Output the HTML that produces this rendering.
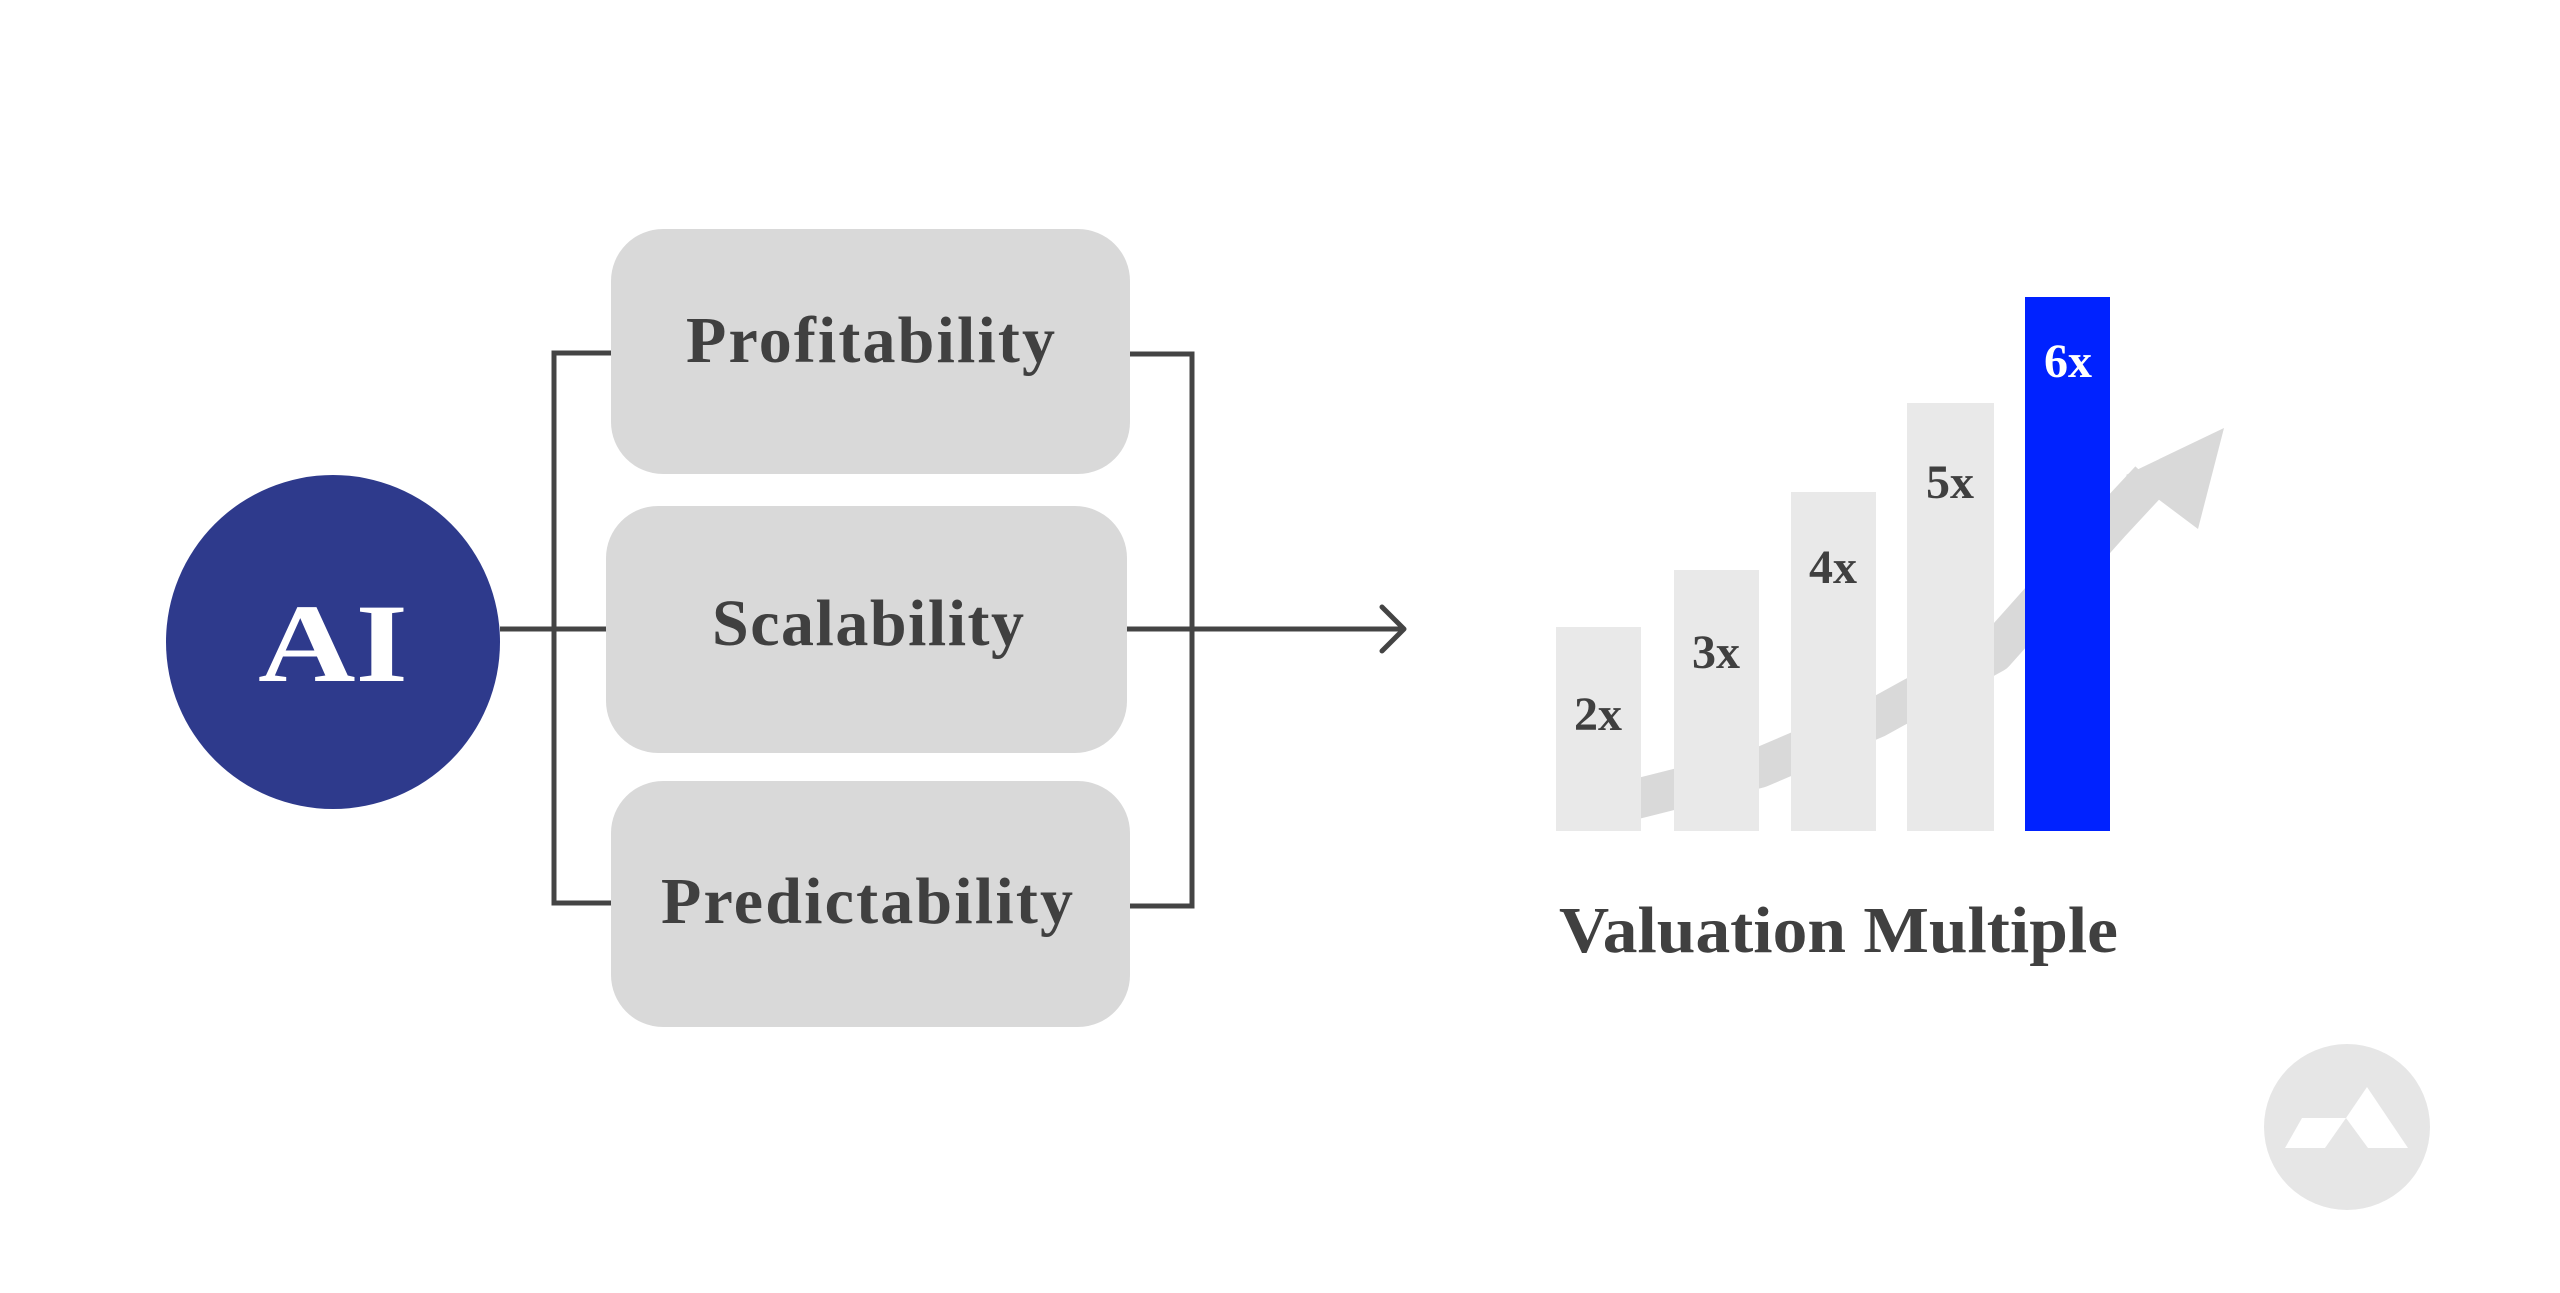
<!DOCTYPE html>
<html><head><meta charset="utf-8"><style>html,body{margin:0;padding:0;background:#fff}svg{display:block}</style></head>
<body>
<svg width="2560" height="1293" viewBox="0 0 2560 1293" xmlns="http://www.w3.org/2000/svg">
<rect width="2560" height="1293" fill="#fff"/>
<g stroke="#444" stroke-width="5" fill="none">
<polyline points="611,353 554,353 554,903 611,903"/>
<line x1="500" y1="629" x2="606" y2="629"/>
<polyline points="1130,354 1192,354 1192,906 1130,906"/>
<line x1="1127" y1="629" x2="1402" y2="629"/>
<polyline points="1382,607 1404,629 1382,651" stroke-linecap="round" stroke-linejoin="round"/>
</g>
<circle cx="333" cy="642" r="167" fill="#2e3a8c"/>
<text x="333" y="681" text-anchor="middle" font-family="Liberation Serif, serif" font-weight="bold" font-size="112" fill="#fff" textLength="150" lengthAdjust="spacingAndGlyphs">AI</text>
<g fill="#d9d9d9">
<rect x="611" y="229" width="519" height="245" rx="52"/>
<rect x="606" y="506" width="521" height="247" rx="52"/>
<rect x="611" y="781" width="519" height="246" rx="52"/>
</g>
<g font-family="Liberation Serif, serif" font-weight="bold" font-size="66" fill="#404040" lengthAdjust="spacingAndGlyphs">
<text x="686" y="362" textLength="369">Profitability</text>
<text x="712" y="645" textLength="312">Scalability</text>
<text x="661" y="923" textLength="412">Predictability</text>
</g>
<polyline points="1620,803 1759,768 1876,718 1994,653 2110,523 2150,480" fill="none" stroke="#d9d9d9" stroke-width="40" stroke-linejoin="round"/>
<polygon points="2224,428 2198,529 2126,475" fill="#d9d9d9"/>
<g fill="#e9e9e9">
<rect x="1556" y="627" width="85" height="204"/>
<rect x="1674" y="570" width="85" height="261"/>
<rect x="1791" y="492" width="85" height="339"/>
<rect x="1907" y="403" width="87" height="428"/>
</g>
<rect x="2025" y="297" width="85" height="534" fill="#0022ff"/>
<g font-family="Liberation Serif, serif" font-weight="bold" font-size="48" fill="#404040" text-anchor="middle">
<text x="1598" y="730">2x</text>
<text x="1716" y="668">3x</text>
<text x="1833" y="583">4x</text>
<text x="1950" y="498">5x</text>
<text x="2068" y="377" fill="#fff">6x</text>
</g>
<text x="1559" y="952" font-family="Liberation Serif, serif" font-weight="bold" font-size="66" fill="#404040" textLength="559" lengthAdjust="spacingAndGlyphs">Valuation Multiple</text>
<circle cx="2347" cy="1127" r="83" fill="#e6e6e6"/>
<polygon points="2285,1148 2302,1118 2346,1118 2325,1148" fill="#fff"/>
<polygon points="2367,1087 2346,1118 2368,1148 2408,1148" fill="#fff"/>
</svg>
</body></html>
